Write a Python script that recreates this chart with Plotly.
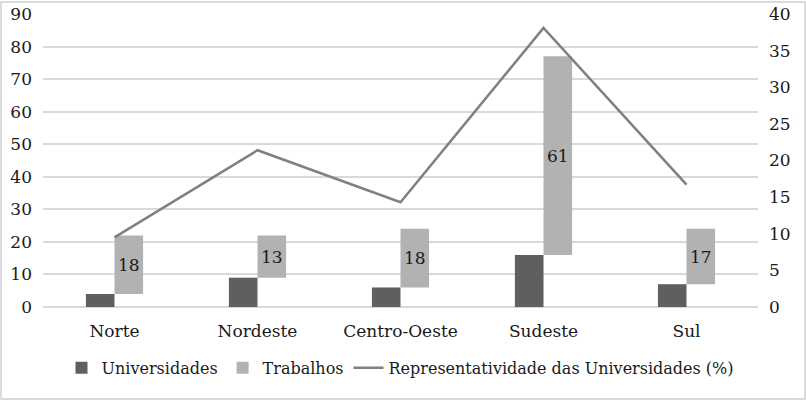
import plotly.graph_objects as go

regioes = ["Norte", "Nordeste", "Centro-Oeste", "Sudeste", "Sul"]
universidades = [4, 9, 6, 16, 7]
trabalhos = [18, 13, 18, 61, 17]
representatividade = [9.5, 21.4, 14.3, 38.1, 16.7]
left_ticks = [0, 10, 20, 30, 40, 50, 60, 70, 80, 90]
right_ticks = [0, 5, 10, 15, 20, 25, 30, 35, 40]

FONT = "DejaVu Serif"

fig = go.Figure()
fig.add_trace(go.Bar(
    x=regioes, y=universidades, name="Universidades",
    marker=dict(color="#5f5f5f", line=dict(width=0)),
    offsetgroup="a",
))
fig.add_trace(go.Bar(
    x=regioes, y=trabalhos, base=universidades, name="Trabalhos",
    marker=dict(color="#b2b2b2", line=dict(width=0)),
    text=[str(v) for v in trabalhos], textposition="inside",
    insidetextanchor="middle",
    textfont=dict(family=FONT, size=17, color="#1a1a1a"),
    offsetgroup="b",
))
fig.add_trace(go.Scatter(
    x=regioes, y=representatividade, name="Representatividade das Universidades (%)",
    mode="lines", line=dict(color="#808080", width=2.5), yaxis="y2",
))

fig.update_layout(
    width=806, height=401,
    margin=dict(l=43, r=48, t=14, b=94, autoexpand=False),
    paper_bgcolor="white", plot_bgcolor="white",
    barmode="group", bargap=0.6, bargroupgap=0,
    font=dict(family=FONT, size=17, color="#1a1a1a"),
    xaxis=dict(showgrid=False, showline=False, ticks="", tickfont=dict(size=17),
               automargin=False, ticklabelstandoff=12),
    yaxis=dict(range=[0, 90], tickvals=left_ticks, showgrid=True,
               gridcolor="#d9d9d9", gridwidth=1.5, zeroline=True,
               zerolinecolor="#d9d9d9", zerolinewidth=1.5,
               tickfont=dict(size=17), ticklabelstandoff=10, automargin=False),
    yaxis2=dict(range=[0, 40], tickvals=right_ticks, overlaying="y", side="right",
                showgrid=False, zeroline=False, tickfont=dict(size=17),
                ticklabelstandoff=10, automargin=False),
    legend=dict(orientation="h", x=0.5, xanchor="center", y=-0.15, yanchor="top",
                font=dict(size=16), traceorder="normal"),
    showlegend=True,
    shapes=[dict(type="rect", xref="paper", yref="paper",
                 x0=-42/715, x1=(805-43)/715, y0=-(399-307)/293, y1=(307-2)/293,
                 line=dict(color="#d0d0d0", width=1.5), fillcolor="rgba(0,0,0,0)",
                 layer="below")],
)

fig.write_html("out.html", config={"displayModeBar": False},
               post_script="document.body.style.margin='0';")
